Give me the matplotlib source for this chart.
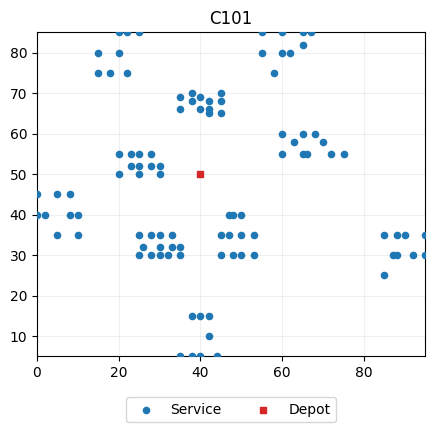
import matplotlib
matplotlib.use("Agg")
import matplotlib.pyplot as plt

# Solomon C101 customers
cust_x = [45, 45, 42, 42, 42, 40, 40, 38, 38, 35, 35, 25, 22, 22, 20, 20, 18, 15, 15, 30,
          30, 28, 28, 25, 25, 25, 23, 23, 20, 20, 10, 10, 8, 8, 5, 5, 2, 0, 0, 35,
          35, 33, 33, 32, 30, 30, 30, 28, 28, 26, 25, 25, 44, 42, 42, 40, 40, 38, 38, 35,
          50, 50, 50, 48, 48, 47, 47, 45, 45, 95, 95, 53, 92, 53, 45, 90, 88, 88, 87, 85,
          85, 75, 72, 70, 68, 66, 65, 65, 63, 60, 60, 67, 65, 65, 62, 60, 60, 58, 55, 55]
cust_y = [68, 70, 66, 68, 65, 69, 66, 68, 70, 66, 69, 85, 75, 85, 80, 85, 75, 75, 80, 50,
          52, 52, 55, 50, 52, 55, 52, 55, 50, 55, 35, 40, 40, 45, 35, 45, 40, 40, 45, 30,
          32, 32, 35, 30, 30, 32, 35, 30, 35, 32, 30, 35, 5, 10, 15, 5, 15, 5, 15, 5,
          30, 35, 40, 30, 40, 35, 40, 30, 35, 30, 35, 30, 30, 35, 65, 35, 30, 35, 30, 25,
          35, 55, 55, 58, 60, 55, 55, 60, 58, 55, 60, 85, 85, 82, 80, 80, 85, 75, 80, 85]
depot_x = [40]
depot_y = [50]

fig, ax = plt.subplots(figsize=(4.34, 4.32), dpi=100)
ax.scatter(cust_x, cust_y, s=20, color="#1f77b4", label="Service", zorder=3)
ax.scatter(depot_x, depot_y, s=20, marker="s", color="#d62728", label="Depot", zorder=3)
ax.set_xlim(min(cust_x), max(cust_x))
ax.set_ylim(min(cust_y), max(cust_y))
ax.grid(True, alpha=0.2)
ax.set_title("C101")
ax.legend(loc="upper center", bbox_to_anchor=(0.5, -0.105), ncol=2)
fig.subplots_adjust(left=0.085, right=0.98, top=0.925, bottom=0.175)
fig.savefig("out.png")
